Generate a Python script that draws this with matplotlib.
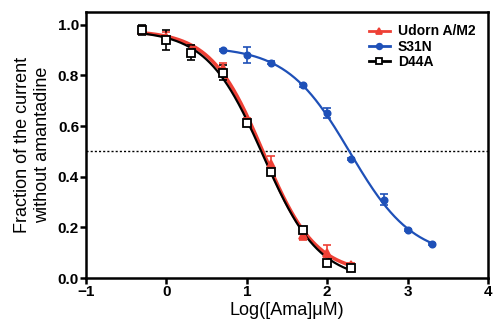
import numpy as np
import matplotlib
matplotlib.use("Agg")
import matplotlib.pyplot as plt

plt.rcParams['font.family'] = ['Liberation Sans', 'DejaVu Sans']

# log concentrations and measured fractions
x_wt = [-0.3, 0.0, 0.3, 0.7, 1.0, 1.3, 1.7, 2.0, 2.3]
udorn = [0.98, 0.95, 0.90, 0.83, 0.62, 0.45, 0.17, 0.10, 0.05]
udorn_err = [0.01, 0.02, 0.02, 0.02, 0.01, 0.03, 0.02, 0.03, 0.01]
d44a = [0.98, 0.94, 0.89, 0.81, 0.61, 0.42, 0.19, 0.06, 0.04]
d44a_err = [0.02, 0.04, 0.03, 0.03, 0.01, 0.01, 0.01, 0.01, 0.01]
x_s31n = [0.7, 1.0, 1.3, 1.7, 2.0, 2.3, 2.7, 3.0, 3.3]
s31n = [0.90, 0.88, 0.85, 0.76, 0.65, 0.47, 0.31, 0.19, 0.135]
s31n_err = [0.005, 0.03, 0.005, 0.005, 0.02, 0.005, 0.02, 0.005, 0.005]

labels = ["Udorn A/M2", "S31N", "D44A"]
colors = ["#ee4035", "#1e50b8", "black"]


def fit_curve(x, y):
    # 4-parameter logistic: grid over logIC50 and hill, linear solve for top/bottom
    x = np.asarray(x); y = np.asarray(y)
    best = None
    for c in np.linspace(x.min(), x.max(), 200):
        for h in np.linspace(0.4, 2.5, 120):
            s = 1 / (1 + 10 ** ((x - c) * h))
            A = np.column_stack([np.ones_like(s), s])
            coef, *_ = np.linalg.lstsq(A, y, rcond=None)
            r = np.sum((A @ coef - y) ** 2)
            if best is None or r < best[0]:
                best = (r, c, h, coef)
    _, c, h, coef = best
    xs = np.linspace(x.min(), x.max(), 300)
    return xs, coef[0] + coef[1] / (1 + 10 ** ((xs - c) * h))


fig = plt.figure(figsize=(4.97, 3.33), dpi=100)
ax = fig.add_axes([0.173, 0.165, 0.809, 0.799])

ax.axhline(0.5, color="black", ls=(0, (1.5, 1.5)), lw=1.0, zorder=1)

series = [
    (x_wt, udorn, udorn_err, "^", colors[0], colors[0]),
    (x_s31n, s31n, s31n_err, "o", colors[1], colors[1]),
    (x_wt, d44a, d44a_err, "s", colors[2], "white"),
]
for (x, y, e, m, c, fc), lab in zip(series, labels):
    xs, ys = fit_curve(x, y)
    lw = 2.6 if lab == "Udorn A/M2" else 1.6
    ax.plot(xs, ys, color=c, lw=lw, zorder=2)
    ax.errorbar(x, y, yerr=e, fmt="none", ecolor=c, elinewidth=1.2, capsize=3, capthick=1.2, zorder=3)
    ax.plot(x, y, ls="none", marker=m, ms=5.5 if m != "o" else 4.5, mfc=fc, mec=c, mew=1.3, zorder=4)
    ax.plot([], [], color=c, lw=2, marker=m, ms=4.5 if m != "o" else 4, mfc=fc, mec=c, mew=1.3, label=lab)

ax.set_xlim(-1, 4)
ax.set_ylim(0, 1.05)
ax.set_xticks([-1, 0, 1, 2, 3, 4])
ax.set_yticks([0.0, 0.2, 0.4, 0.6, 0.8, 1.0])
ax.set_yticklabels(["0.0", "0.2", "0.4", "0.6", "0.8", "1.0"])
for t in ax.get_xticklabels() + ax.get_yticklabels():
    t.set_fontweight("bold")
    t.set_fontsize(11)
ax.tick_params(width=1.8, length=4, direction="out", pad=1)
for sp in ax.spines.values():
    sp.set_linewidth(1.8)

ax.set_xlabel("Log([Ama]\u03bcM)", fontsize=13, labelpad=2)
ax.set_ylabel("Fraction of the current\nwithout amantadine", fontsize=13, labelpad=5,
              linespacing=1.25)

leg = ax.legend(loc="upper right", frameon=False, prop={"weight": "bold", "size": 10},
                handlelength=1.5, labelspacing=0.1, borderaxespad=0.5, handletextpad=0.6)

fig.savefig("out.png", dpi=100)
